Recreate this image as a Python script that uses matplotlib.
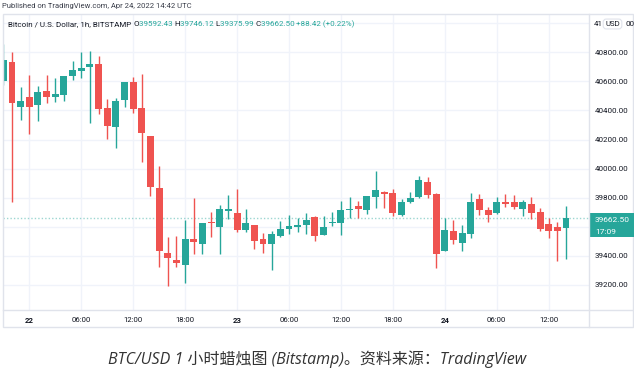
"""BTC/USD 1h candles, TradingView style."""
import matplotlib.pyplot as plt
from matplotlib.patches import Rectangle
from matplotlib.lines import Line2D
import numpy as np

# hourly candles, 21 Apr 21:00 -> 24 Apr 14:00 UTC
opens = [40605, 40731, 40422, 40493, 40440, 40534, 40495, 40509, 40637, 40674,
         40697, 40717, 40415, 40289, 40474, 40598, 40419, 40224, 39865, 39418,
         39372, 39337, 39516, 39484, 39626, 39601, 39711, 39697, 39578, 39610,
         39514, 39482, 39539, 39587, 39601, 39612, 39667, 39546, 39624, 39629,
         39716, 39741, 39716, 39807, 39839, 39832, 39681, 39768, 39807, 39908,
         39826, 39434, 39571, 39491, 39553, 39791, 39713, 39693, 39771, 39771,
         39720, 39759, 39702, 39619, 39599, 39592.43]
highs = [40857, 40804, 40564, 40644, 40568, 40644, 40621, 40640, 40738, 40802,
         40809, 40775, 40479, 40488, 40598, 40630, 40648, 40224, 40020, 39528,
         39537, 39647, 39796, 39626, 39700, 39750, 39819, 39858, 39720, 39610,
         39555, 39569, 39640, 39681, 39658, 39697, 39674, 39674, 39702, 39780,
         39807, 39777, 39812, 39984, 39846, 39858, 39791, 39842, 39952, 39945,
         39830, 39658, 39647, 39612, 39830, 39826, 39734, 39807, 39826, 39819,
         39784, 39803, 39732, 39658, 39633, 39746.12]
lows = [40575, 39768, 40334, 40238, 40330, 40454, 40456, 40467, 40609, 40626,
        40316, 40373, 40202, 40140, 40426, 40383, 40048, 39814, 39326, 39195,
        39321, 39216, 39413, 39411, 39532, 39411, 39654, 39567, 39567, 39445,
        39422, 39303, 39528, 39551, 39567, 39551, 39505, 39546, 39608, 39544,
        39658, 39658, 39690, 39732, 39732, 39674, 39674, 39764, 39796, 39796,
        39319, 39434, 39480, 39434, 39521, 39679, 39635, 39688, 39734, 39725,
        39674, 39651, 39571, 39525, 39367, 39375.99]
closes = [40747, 40449, 40467, 40422, 40525, 40493, 40511, 40637, 40676, 40694,
          40717, 40408, 40295, 40465, 40598, 40412, 40247, 39876, 39434, 39388,
          39351, 39516, 39498, 39626, 39624, 39720, 39720, 39578, 39624, 39505,
          39480, 39548, 39587, 39606, 39615, 39649, 39537, 39599, 39633, 39713,
          39720, 39720, 39812, 39853, 39828, 39697, 39771, 39796, 39922, 39816,
          39415, 39578, 39509, 39555, 39771, 39716, 39679, 39768, 39755, 39738,
          39768, 39697, 39587, 39573, 39569, 39662.50]

time_pos = [3, 9, 15, 21, 27, 33, 39, 45, 51, 57, 63]
time_labels = ['22', '06:00', '12:00', '18:00', '23', '06:00', '12:00', '18:00',
               '24', '06:00', '12:00']
price_ticks = [39200, 39400, 39600, 39800, 40000, 40200, 40400, 40600, 40800, 41000]

UP, DOWN = '#26a69a', '#ef5350'
TXT = '#131722'
GRID = '#f0f3fa'
BORDER = '#e0e3eb'

W, H = 634, 371
fig = plt.figure(figsize=(W / 100, H / 100), dpi=100)


def fx(px):
    return px / W


def fy(py):
    return 1 - py / H


L, R, T, B = 2.7, 589.3, 14, 310.3
ax = fig.add_axes([fx(L), fy(B), fx(R) - fx(L), fy(T) - fy(B)])

x = np.arange(len(opens))
o = np.array(opens)
c = np.array(closes)
colors = np.where(c >= o, UP, DOWN)
ax.vlines(x, lows, highs, colors=colors, lw=1, zorder=3)
body = np.maximum(np.abs(c - o), 8)
ax.bar(x, body, bottom=np.minimum(o, c), width=0.8, color=colors, lw=0, zorder=4)

# last price dotted line
ax.axhline(closes[-1], color=UP, alpha=0.45, lw=1, ls=(0, (1, 1.5)), zorder=2)

ax.set_xlim(-0.07, 67.69)
ax.set_ylim(39026, 41063)
ax.set_axisbelow(True)
ax.grid(True, color=GRID, lw=1)
for s in ax.spines.values():
    s.set_visible(False)

# 39600 sits under the last-price tag, 41000 under the USD badge
hidden = (39600, 41000)
ax.set_yticks(price_ticks)
ax.set_yticklabels(['' if p in hidden else '%.2f' % p for p in price_ticks])
ax.yaxis.tick_right()
ax.tick_params(axis='y', length=0, pad=4, labelsize=5.8, labelcolor=TXT)
ax.set_xticks(time_pos)
ax.set_xticklabels(time_labels)
ax.tick_params(axis='x', length=0, pad=4.5, labelsize=5.6, labelcolor=TXT)
for lab in ax.get_xticklabels():
    lab.set_family('Roboto')
    if ':' not in lab.get_text():
        lab.set_fontweight('bold')
for lab in ax.get_yticklabels():
    lab.set_family('Roboto')

# frame and separators
fig.add_artist(Rectangle((fx(2.7), fy(327.3)), fx(633) - fx(2.7), fy(14) - fy(327.3),
                         transform=fig.transFigure, fill=False, ec=BORDER, lw=1))
fig.add_artist(Line2D([fx(589.3)] * 2, [fy(14), fy(327.3)], color=BORDER, lw=1))
fig.add_artist(Line2D([fx(2.7), fx(633)], [fy(310.3)] * 2, color=BORDER, lw=1))

# last price tag
fig.add_artist(Rectangle((fx(589.3), fy(237.3)), fx(634) - fx(589.3), fy(213.3) - fy(237.3),
                         transform=fig.transFigure, color=UP, lw=0))
fig.text(fx(595), fy(219.5), '%.2f' % closes[-1], color='white', fontsize=6,
         family='Roboto', va='center', ha='left')
fig.text(fx(595), fy(231.5), '17:09', color='white', fontsize=6,
         family='Roboto', va='center', ha='left')

# currency badge over the 41000 label
fig.text(fx(594), fy(24), '41', fontsize=5.8, family='Roboto', color=TXT,
         ha='left', va='center')
fig.text(fx(625), fy(24), '00', fontsize=5.8, family='Roboto', color=TXT,
         ha='left', va='center')
fig.text(fx(612.5), fy(24), 'USD', fontsize=5.6, family='Roboto', color=TXT,
         ha='center', va='center',
         bbox=dict(boxstyle='round,pad=0.25,rounding_size=0.4', fc='white', ec=BORDER, lw=0.8))

fig.text(fx(2), fy(6), 'Published on TradingView.com, Apr 24, 2022 14:42 UTC',
         fontsize=5.5, family='Roboto', color='#3a3e4a', va='center', ha='left')

# header legend
parts = [('Bitcoin / U.S. Dollar, 1h, BITSTAMP ', TXT), ('O', TXT), ('39592.43 ', UP),
         ('H', TXT), ('39746.12 ', UP), ('L', TXT), ('39375.99 ', UP),
         ('C', TXT), ('39662.50 ', UP), ('+88.42 (+0.22%)', UP)]
hsize = 5.8
prev = fig.text(fx(8), fy(24), parts[0][0], fontsize=hsize, family='Roboto',
                color=parts[0][1], va='center', ha='left')
for s, col in parts[1:]:
    prev = ax.annotate(s, xy=(1, 0.5), xycoords=prev, va='center', ha='left',
                       fontsize=hsize, family='Roboto', color=col, annotation_clip=False)

fig.text(0.5, fy(359), 'BTC/USD 1 小时蜡烛图 (Bitstamp)。资料来源：TradingView',
         fontsize=11.5, style='italic', family=['Open Sans', 'Noto Sans CJK SC'],
         color='#333333', ha='center', va='center')

fig.savefig('out.png', dpi=100, facecolor='white')
